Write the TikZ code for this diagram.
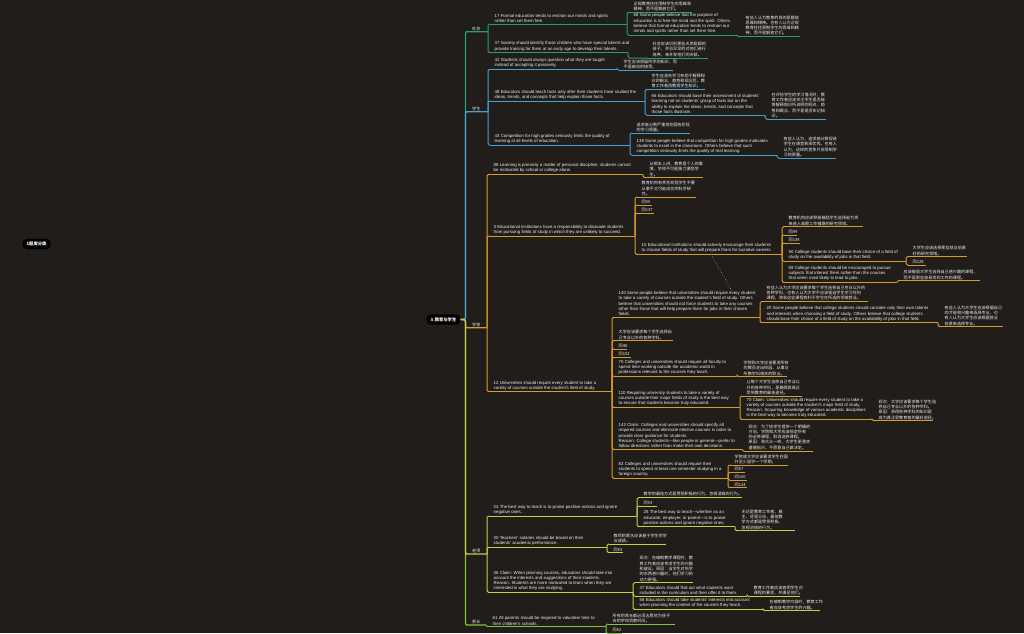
\documentclass[tikz,border=0pt]{standalone}
\usepackage{fontspec}
\setmainfont{Liberation Sans}
\newfontfamily\cjk{Noto Sans CJK SC}
\definecolor{bg}{HTML}{201D1B}
\definecolor{cS}{HTML}{27A06C}
\definecolor{cX}{HTML}{4A9FD0}
\definecolor{cY}{HTML}{D89B2B}
\definecolor{cT}{HTML}{CBCB45}
\definecolor{cJ}{HTML}{86C440}
\definecolor{tx}{HTML}{F0F0F0}
\tikzset{
  ctxt/.style={text=tx, font=\cjk\fontsize{4.1}{5.3}\selectfont, align=left, inner xsep=4.5pt, inner ysep=1.1pt},
  etxt/.style={text=tx, font=\fontsize{4.35}{5.3}\selectfont, align=left, inner xsep=4.5pt, inner ysep=1.3pt},
  ul/.style={line width=1pt},
  lk/.style={line width=1pt, rounded corners=1.5pt},
  hl/.style={line width=1.2pt, rounded corners=2pt},
  pill/.style={fill=black, rounded corners=4pt, text=white, font=\cjk\fontsize{4.3}{5}\selectfont\bfseries, inner xsep=4pt, inner ysep=3pt},
  dotline/.style={dotted, line width=0.6pt, draw=gray!70}
}
\newcommand\mnode[7][ctxt]{%
  \node[#1,anchor=south west] (#2) at (#3,#4) {#7};
  \coordinate (#2-e) at (#5,#4);
  \draw[ul,#6] (#2.south west) -- (#2-e);
}
\newcommand\mlink[3]{\draw[lk,#3] (#1-e) |- (#2.south west);}
\begin{document}
\begin{tikzpicture}[x=1pt,y=-1pt]
\fill[bg] (0,0) rectangle (1024,633);
\useasboundingbox (0,0) rectangle (1024,633);

% root
\node[pill] (root) at (36.5,244) {1题库分类\hspace{4pt}};
\fill[gray] ([xshift=-4.5pt]root.east) circle (0.7pt);

% main
\node[pill] (main) at (443.5,319.5) {3.教育与学生};
\coordinate (hub) at (465.5,319.5);

% ---------------- 社会
\node[ctxt,anchor=south west] (she) at (467.5,31.7) {社会};
\coordinate (she-e) at (488,31.7);
\draw[hl,cS] (main.east) -- (hub) |- (she.south west) -- (she-e);

\mnode[etxt]{n17}{490}{24}{627}{cS}{17 Formal education tends to restrain our minds and spirits\\rather than set them free.}
\mnode{c17}{629}{12.3}{692}{cS}{正规教育往往限制学生的思维和\\精神，而不是解放它们。}
\mnode[etxt]{n68}{629}{35}{737}{cS}{68 Some people believe that the purpose of\\education is to free the mind and the spirit. Others\\believe that formal education tends to restrain our\\minds and spirits rather than set them free.}
\mnode{c68}{741}{36.7}{800}{cS}{有些人认为教育的目的是解放\\思维和精神。也有人认为正规\\教育往往限制学生的思维和精\\神，而不是解放它们。}
\mnode[etxt]{n37}{490}{52.6}{628}{cS}{37 Society should identify those children who have special talents and\\provide training for them at an early age to develop their talents.}
\mnode{c37}{648}{58}{708}{cS}{社会应该识别那些天资聪颖的\\孩子，并且早早的对他们进行\\培养，来开发他们的天赋。}
\mlink{she}{n17}{cS}\mlink{she}{n37}{cS}
\mlink{n17}{c17}{cS}\mlink{n17}{n68}{cS}
\mlink{n68}{c68}{cS}\mlink{n37}{c37}{cS}

% ---------------- 学生
\node[ctxt,anchor=south west] (xue) at (467.5,111.7) {学生};
\coordinate (xue-e) at (488,111.7);
\draw[hl,cX] (main.east) -- (hub) |- (xue.south west) -- (xue-e);

\mnode[etxt]{n42}{490}{69.3}{617}{cX}{42 Students should always question what they are taught\\instead of accepting it passively.}
\mnode{c42}{619}{70}{673}{cX}{学生应该质疑所学的知识，而\\不是被动的接受。}
\mnode[etxt]{n48}{490}{101}{645}{cX}{48 Educators should teach facts only after their students have studied the\\ideas, trends, and concepts that help explain those facts.}
\mnode{c48}{647}{89.3}{705}{cX}{学生应该先学习有助于解释知\\识的概念、趋势和观念后，教\\育工作者再教授学生知识。}
\mnode[etxt]{n66}{647}{115}{765}{cX}{66 Educators should base their assessment of students'\\learning not on students' grasp of facts but on the\\ability to explain the ideas, trends, and concepts that\\those facts illustrate.}
\mnode{c66}{767}{119}{826}{cX}{在评估学生的学习情况时，教\\育工作者应该关注学生是否能\\够解释知识所说明的观点、趋\\势和概念，而不是是否牢记知\\识。}
\mnode[etxt]{n43}{490}{145}{630}{cX}{43 Competition for high grades seriously limits the quality of\\learning at all levels of education.}
\mnode{c43}{632}{133}{690}{cX}{追求高分数严重地削弱各阶段\\的学习质量。}
\mnode[etxt]{n138}{632}{155}{777}{cX}{138 Some people believe that competition for high grades motivates\\students to excel in the classroom. Others believe that such\\competition seriously limits the quality of real learning.}
\mnode{c138}{779}{158}{836}{cX}{有些人认为，追求高分数促进\\学生在课堂表现优秀。也有人\\认为，这样的竞争只会限制学\\习的质量。}
\mlink{xue}{n42}{cX}\mlink{xue}{n48}{cX}\mlink{xue}{n43}{cX}
\mlink{n42}{c42}{cX}
\mlink{n48}{c48}{cX}\mlink{n48}{n66}{cX}\mlink{n66}{c66}{cX}
\mlink{n43}{c43}{cX}\mlink{n43}{n138}{cX}\mlink{n138}{c138}{cX}

% ---------------- 学校
\node[ctxt,anchor=south west] (xiao) at (467.5,327.7) {学校};
\coordinate (xiao-e) at (487,327.7);
\draw[hl,cY] (main.east) -- (hub) |- (xiao.south west) -- (xiao-e);

\mnode[etxt]{n88}{489}{174.3}{643}{cY}{88 Learning is primarily a matter of personal discipline; students cannot\\be motivated by school or college alone.}
\mnode{c88}{645}{177.7}{703}{cY}{从根本上讲，教育是个人的事\\情，学校不可能独力激励学\\生。}
\mnode[etxt]{n3}{489}{236}{635}{cY}{3 Educational institutions have a responsibility to dissuade students\\from pursuing fields of study in which they are unlikely to succeed.}
\mnode{c3}{637}{197}{696}{cY}{教育机构有责任劝阻学生不要\\从事不太可能成功的科学研\\究。}
\mnode{t55}{637}{205}{652}{cY}{同55}
\mnode{t137}{637}{213.3}{654}{cY}{同137}
\mnode[etxt]{n15}{637}{254.3}{782}{cY}{15 Educational institutions should actively encourage their students\\to choose fields of study that will prepare them for lucrative careers.}
\mnode{c15}{784}{226.7}{863}{cY}{教育机构应该积极鼓励学生选择能为将\\来进入高薪工作铺路的研究领域。}
\mnode{t99}{784}{235}{797}{cY}{同99}
\mnode{t138}{784}{243.3}{800}{cY}{同138}
\mnode[etxt]{n50}{784}{261}{906}{cY}{50 College students should base their choice of a field of\\study on the availability of jobs in that field.}
\mnode{c50}{908}{256.7}{967}{cY}{大学生应该选择那些就业前景\\好的研究领域。}
\mnode{t128}{908}{265}{926}{cY}{同128}
\mnode[etxt]{n59}{784}{282.3}{897}{cY}{59 College students should be encouraged to pursue\\subjects that interest them rather than the courses\\that seem most likely to lead to jobs.}
\mnode{c59}{899}{280.7}{980}{cY}{应该鼓励大学生选择自己感兴趣的课程，\\而不是那些容易找到工作的课程。}
\mnode[etxt]{n12}{489}{391.7}{612}{cY}{12 Universities should require every student to take a\\variety of courses outside the student's field of study.}
\mnode[etxt]{n140}{614}{317.3}{760}{cY}{140 Some people believe that universities should require every student\\to take a variety of courses outside the student's field of study. Others\\believe that universities should not force students to take any courses\\other than those that will help prepare them for jobs in their chosen\\fields.}
\mnode{c140}{762}{301.7}{868}{cY}{有些人认为大学应该要求每个学生选修自己专业以外的\\各种学科，也有人认为大学不应该强迫学生学习任何\\课程，除非这些课程有利于学生在所选的领域就业。}
\mnode[etxt]{n20}{762}{322.7}{938}{cY}{20 Some people believe that college students should consider only their own talents\\and interests when choosing a field of study. Others believe that college students\\should base their choice of a field of study on the availability of jobs in that field.}
\mnode{c20}{940}{326.7}{1003}{cY}{有些人认为大学生应该根据自己\\的才能和兴趣来选择专业，也\\有人认为大学生应该根据就业\\前景来选择专业。}
\mnode{c12}{614}{340.7}{673}{cY}{大学应该要求每个学生选择自\\己专业以外的各种学科。}
\mnode{t46}{614}{349}{627}{cY}{同46}
\mnode{t102}{614}{357.3}{631}{cY}{同102}
\mnode[etxt]{n75}{614}{376}{737}{cY}{75 Colleges and universities should require all faculty to\\spend time working outside the academic world in\\professions relevant to the courses they teach.}
\mnode{c75}{739}{376.7}{787}{cY}{学院和大学应该要求所有\\的教员走出校园，从事与\\所教学科相关的职业。}
\mnode[etxt]{n110}{614}{407.3}{740}{cY}{110 Requiring university students to take a variety of\\courses outside their major fields of study is the best way\\to ensure that students become truly educated.}
\mnode{c110}{742}{396}{802}{cY}{让每个大学生选修自己专业以\\外的各种学科，是确保其真正\\受到教育的最佳途径。}
\mnode[etxt]{n70}{742}{419.3}{872}{cY}{70 Claim: Universities should require every student to take a\\variety of courses outside the student's major field of study.\\Reason: Acquiring knowledge of various academic disciplines\\is the best way to become truly educated.}
\mnode{c70}{874}{420.7}{933}{cY}{观点：大学应该要求每个学生选\\修自己专业以外的各种学科。\\原因：获得各种学科的知识是\\成为真正受教育者的最好途径。}
\mnode[etxt]{n142}{614}{449.3}{742}{cY}{142 Claim: Colleges and universities should specify all\\required courses and eliminate elective courses in order to\\provide clear guidance for students.\\Reason: College students—like people in general—prefer to\\follow directions rather than make their own decisions.}
\mnode{c142}{744}{451}{813}{cY}{观点：为了给学生提供一个明确的\\方向，学院和大学应该规定所有\\的必修课程，取消选修课程。\\原因：和大众一样，大学生更喜欢\\遵循指示，不愿意自己做决定。}
\mnode[etxt]{n82}{614}{478.3}{728}{cY}{82 Colleges and universities should require their\\students to spend at least one semester studying in a\\foreign country.}
\mnode{c82}{730}{465}{788}{cY}{学院或大学应该要求学生在国\\外至少留学一个学期。}
\mnode{t67}{730}{472.3}{745}{cY}{同67}
\mnode{t100}{730}{480}{747}{cY}{同100}
\mnode{t124}{730}{487.7}{747}{cY}{同124}
\mlink{xiao}{n88}{cY}\mlink{xiao}{n3}{cY}\mlink{xiao}{n12}{cY}
\mlink{n88}{c88}{cY}
\mlink{n3}{c3}{cY}\mlink{n3}{t55}{cY}\mlink{n3}{t137}{cY}\mlink{n3}{n15}{cY}
\mlink{n15}{c15}{cY}\mlink{n15}{t99}{cY}\mlink{n15}{t138}{cY}\mlink{n15}{n50}{cY}\mlink{n15}{n59}{cY}
\mlink{n50}{c50}{cY}\mlink{n50}{t128}{cY}\mlink{n59}{c59}{cY}
\mlink{n12}{n140}{cY}\mlink{n12}{c12}{cY}\mlink{n12}{t46}{cY}\mlink{n12}{t102}{cY}
\mlink{n12}{n75}{cY}\mlink{n12}{n110}{cY}\mlink{n12}{n142}{cY}\mlink{n12}{n82}{cY}
\mlink{n140}{c140}{cY}\mlink{n140}{n20}{cY}\mlink{n20}{c20}{cY}
\mlink{n75}{c75}{cY}
\mlink{n110}{c110}{cY}\mlink{n110}{n70}{cY}\mlink{n70}{c70}{cY}
\mlink{n142}{c142}{cY}
\mlink{n82}{c82}{cY}\mlink{n82}{t67}{cY}\mlink{n82}{t100}{cY}\mlink{n82}{t124}{cY}
\coordinate (d1) at (711,254.3);
\coordinate (d2) at (733,293);
\draw[dotline] (d1) -- (d2);

% ---------------- 家长
\node[ctxt,anchor=south west] (jia) at (467.5,625) {家长};
\coordinate (jia-e) at (486,625);
\draw[hl,cJ] (main.east) -- (hub) |- (jia.south west) -- (jia-e);
\mnode[etxt]{n61}{488}{626.7}{606}{cJ}{61 All parents should be required to volunteer time to\\their children's schools.}
\mnode{c61}{608}{624}{675}{cJ}{所有的家长都必须志愿地为孩子\\去的学校贡献时间。}
\mnode{t62}{608}{633.5}{622}{cJ}{同62}
\mlink{jia}{n61}{cJ}\mlink{n61}{c61}{cJ}\mlink{n61}{t62}{cJ}

% ---------------- 老师
\node[ctxt,anchor=south west] (lao) at (467.5,554) {老师};
\coordinate (lao-e) at (487,554);
\draw[hl,cT] (main.east) -- (hub) |- (lao.south west) -- (lao-e);
\mnode[etxt]{n24}{489}{516}{637}{cT}{24 The best way to teach is to praise positive actions and ignore\\negative ones.}
\mnode{c24}{639}{497.7}{742}{cT}{教学的最佳方式是赞扬积极的行为，忽视消极的行为。}
\mnode{t53}{639}{506}{657}{cT}{同53}
\mnode[etxt]{n28}{639}{526.7}{735}{cT}{28 The best way to teach—whether as an\\educator, employer, or parent—is to praise\\positive actions and ignore negative ones.}
\mnode{c28}{737}{530.7}{795}{cT}{无论是教育工作者、雇\\主、还是父母，最佳教\\学方式都是赞扬积极、\\忽视消极的行为。}
\mnode[etxt]{n30}{489}{547.3}{607}{cT}{30 Teachers' salaries should be based on their\\students' academic performance.}
\mnode{c30}{609}{544}{666}{cT}{教师的薪水应该基于学生的学\\业成绩。}
\mnode{t83}{609}{552.7}{623}{cT}{同83}
\mnode[etxt]{n46}{489}{592.3}{633}{cT}{46 Claim: When planning courses, educators should take into\\account the interests and suggestions of their students.\\Reason: Students are more motivated to learn when they are\\interested in what they are studying.}
\mnode{c46}{635}{582.7}{693}{cT}{观点：在编制教学课程时，教\\育工作者应该考虑学生的兴趣\\和建议。原因：当学生对所学\\的东西感兴趣时，他们学习的\\动力更强。}
\mnode[etxt]{n47}{635}{596}{747}{cT}{47 Educators should find out what students want\\included in the curriculum and then offer it to them.}
\mnode{c47}{749}{596.5}{800}{cT}{教育工作者应该查明学生对\\课程的要求，并满足他们。}
\mnode[etxt]{n56}{635}{609.3}{763}{cT}{56 Educators should take students' interests into account\\when planning the content of the courses they teach.}
\mnode{c56}{765}{610.7}{820}{cT}{在编制教学内容时，教育工作\\者应该考虑学生的兴趣。}
\mlink{lao}{n24}{cT}\mlink{lao}{n30}{cT}\mlink{lao}{n46}{cT}
\mlink{n24}{c24}{cT}\mlink{n24}{t53}{cT}\mlink{n24}{n28}{cT}\mlink{n28}{c28}{cT}
\mlink{n30}{c30}{cT}\mlink{n30}{t83}{cT}
\mlink{n46}{c46}{cT}\mlink{n46}{n47}{cT}\mlink{n46}{n56}{cT}
\mlink{n47}{c47}{cT}\mlink{n56}{c56}{cT}
\end{tikzpicture}
\end{document}
